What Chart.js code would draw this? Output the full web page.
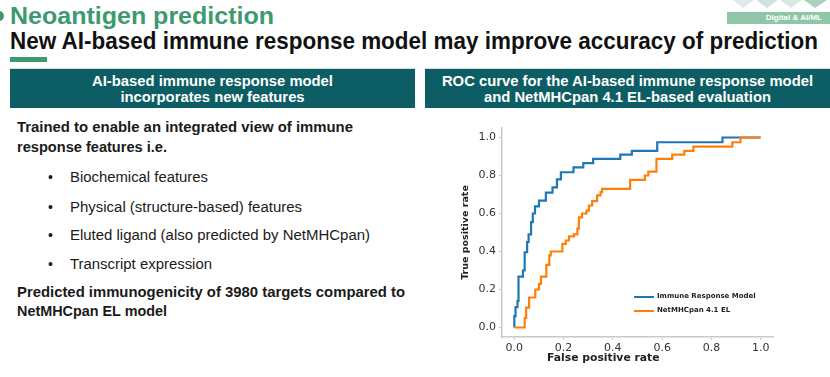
<!DOCTYPE html>
<html>
<head>
<meta charset="utf-8">
<script src="https://cdn.jsdelivr.net/npm/chart.js@4.4.1/dist/chart.umd.min.js"></script>
<style>
  body { margin: 0; width: 830px; height: 377px; background: #fff; position: relative; overflow: hidden; font-family: "Liberation Sans", Arial, sans-serif; }
  .abs { position: absolute; white-space: nowrap; }
  .fit { transform-origin: left top; }
  .h1 { left: 10px; top: 3px; font-size: 23px; font-weight: bold; color: #3d9a70; }
  .h2 { left: 10px; top: 27px; font-size: 24px; font-weight: bold; color: #111; }
  .bar { left: 10px; top: 57px; width: 37px; height: 5px; background: #3d9a70; }
  .hdr { top: 68px; height: 40px; background: #0d5e64; color: #fff; font-weight: bold; font-size: 14.8px; line-height: 16px; text-align: center; padding-top: 4px; box-sizing: border-box; border-top: 1px solid #cfdfe0; }
  .body { color: #1a1a1a; font-size: 14px; }
  .b { font-weight: bold; font-size: 13.8px; }
  .bullet { left: 48px; }
  .item { left: 70px; }
  .badge { left: 727px; top: 12px; width: 103px; height: 12px; background: #8ec6a7; color: #fff; font-size: 8px; font-weight: bold; text-align: right; line-height: 12px; padding-right: 8px; box-sizing: border-box; }
  #wrap { position: absolute; left: 455px; top: 115px; width: 375px; height: 255px; }
  .xt { left: 547px; top: 351px; font-family: "DejaVu Sans", sans-serif; font-weight: bold; font-size: 10.8px; color: #222; }
  .leg { font-family: "DejaVu Sans", sans-serif; font-weight: bold; font-size: 7px; color: #222; }
  .sw { position: absolute; width: 20px; height: 2.4px; }
</style>
</head>
<body>
<svg class="abs" style="left:0;top:0" width="830" height="30">
  <circle cx="-1" cy="16" r="5" fill="#3d9a70"/>
  <polygon points="733,0 754,0 743,8" fill="#dfe9ec"/>
  <polygon points="756,0 778,0 767,8" fill="#cfe2df"/>
  <polygon points="780,0 802,0 791,8" fill="#d6eadf"/>
  <polygon points="804,0 827,0 815,8" fill="#a9d2bd"/>
</svg>
<div class="abs badge">Digital &amp; AI/ML</div>

<div class="abs h1 fit" data-w="264">Neoantigen prediction</div>
<div class="abs h2 fit" data-w="808">New AI-based immune response model may improve accuracy of prediction</div>
<div class="abs bar"></div>

<div class="abs hdr" style="left:10px;width:405px;">AI-based immune response model<br>incorporates new features</div>
<div class="abs hdr" style="left:425px;width:405px;">ROC curve for the AI-based immune response model<br>and NetMHCpan 4.1 EL-based evaluation</div>

<div class="abs body b fit" data-w="336" style="left:17px;top:120px;">Trained to enable an integrated view of immune</div>
<div class="abs body b fit" data-w="150" style="left:17px;top:140px;">response features i.e.</div>
<div class="abs body bullet" style="top:169px;">•</div><div class="abs body item fit" data-w="138" style="top:169px;">Biochemical features</div>
<div class="abs body bullet" style="top:199px;">•</div><div class="abs body item fit" data-w="232" style="top:199px;">Physical (structure-based) features</div>
<div class="abs body bullet" style="top:227px;">•</div><div class="abs body item fit" data-w="300" style="top:227px;">Eluted ligand (also predicted by NetMHCpan)</div>
<div class="abs body bullet" style="top:256px;">•</div><div class="abs body item fit" data-w="142" style="top:256px;">Transcript expression</div>
<div class="abs body b fit" data-w="388" style="left:17px;top:285px;">Predicted immunogenicity of 3980 targets compared to</div>
<div class="abs body b fit" data-w="150" style="left:17px;top:304px;">NetMHCpan EL model</div>

<div id="wrap"><canvas id="roc" width="375" height="255"></canvas></div>
<div class="abs xt">False positive rate</div>
<div id="legend"></div>

<script>
const seriesNames = ['Immune Response Model', 'NetMHCpan 4.1 EL'];
const seriesColors = ['#1f77b4', '#ff7f0e'];

// ROC points (false positive rate, true positive rate)
const irmFpr = [0, 0, 0.005, 0.013, 0.017, 0.035, 0.042, 0.052, 0.058, 0.068, 0.075, 0.084, 0.10, 0.128, 0.155, 0.173, 0.189, 0.24, 0.28, 0.32, 0.43, 0.477, 0.58, 0.845, 1.0];
const irmTpr = [0, 0.06, 0.107, 0.14, 0.268, 0.30, 0.396, 0.45, 0.49, 0.555, 0.60, 0.637, 0.668, 0.71, 0.738, 0.78, 0.817, 0.843, 0.865, 0.888, 0.91, 0.93, 0.975, 1.0, 1.0];

const netFpr = [0, 0.042, 0.048, 0.06, 0.085, 0.10, 0.108, 0.13, 0.142, 0.148, 0.195, 0.209, 0.222, 0.242, 0.256, 0.262, 0.275, 0.293, 0.303, 0.316, 0.336, 0.35, 0.356, 0.47, 0.53, 0.544, 0.577, 0.641, 0.69, 0.727, 0.885, 0.918, 1.0];
const netTpr = [0, 0.05, 0.105, 0.158, 0.20, 0.23, 0.268, 0.33, 0.38, 0.40, 0.44, 0.458, 0.48, 0.49, 0.52, 0.58, 0.60, 0.615, 0.642, 0.665, 0.695, 0.712, 0.73, 0.777, 0.80, 0.82, 0.888, 0.91, 0.93, 0.952, 0.975, 1.0, 1.0];

const xTicks = [0.0, 0.2, 0.4, 0.6, 0.8, 1.0];
const yTicks = [0.0, 0.2, 0.4, 0.6, 0.8, 1.0];

// squeeze text lines to the widths they have on the original slide
document.querySelectorAll('.fit').forEach(function (el) {
    const w = el.getBoundingClientRect().width;
    el.style.transform = 'scaleX(' + (parseFloat(el.dataset.w) / w) + ')';
});

function points(xs, ys) {
    return xs.map(function (x, i) { return { x: x, y: ys[i] }; });
}

const tickFont = { family: 'DejaVu Sans', size: 11 };
const spine = '#c9c9c9';

new Chart(document.getElementById('roc').getContext('2d'), {
    type: 'scatter',
    data: {
        datasets: [
            {
                label: seriesNames[0],
                data: points(irmFpr, irmTpr),
                borderColor: seriesColors[0],
                backgroundColor: seriesColors[0],
                showLine: true,
                stepped: 'before',
                borderWidth: 2.2,
                pointRadius: 0,
                order: 1
            },
            {
                label: seriesNames[1],
                data: points(netFpr, netTpr),
                borderColor: seriesColors[1],
                backgroundColor: seriesColors[1],
                showLine: true,
                stepped: 'before',
                borderWidth: 2.2,
                pointRadius: 0,
                order: 0
            }
        ]
    },
    options: {
        responsive: false,
        animation: false,
        devicePixelRatio: 1,
        layout: { padding: { left: 0, top: 13, right: 57, bottom: 0 } },
        plugins: {
            legend: { display: false },
            tooltip: { enabled: false }
        },
        scales: {
            x: {
                type: 'linear',
                min: -0.05, max: 1.05,
                afterBuildTicks: function (s) { s.ticks = xTicks.map(function (v) { return { value: v }; }); },
                afterFit: function (s) { s.height = 33; },
                grid: { drawOnChartArea: false, color: spine, tickLength: 3, tickWidth: 1 },
                border: { color: spine, width: 1.5 },
                ticks: {
                    font: tickFont, color: '#333', padding: 2, maxRotation: 0,
                    callback: function (v) { return v.toFixed(1); }
                }
            },
            y: {
                type: 'linear',
                min: -0.05, max: 1.05,
                afterBuildTicks: function (s) { s.ticks = yTicks.map(function (v) { return { value: v }; }); },
                afterFit: function (s) { s.width = 47; },
                grid: { drawOnChartArea: false, color: spine, tickLength: 3, tickWidth: 1 },
                border: { color: spine, width: 1.5 },
                title: {
                    display: true, text: 'True positive rate', color: '#222',
                    font: { family: 'DejaVu Sans', size: 9.5, weight: 'bold' },
                    padding: { top: 5, bottom: 0 }
                },
                ticks: {
                    font: tickFont, color: '#333', padding: 3,
                    callback: function (v) { return v.toFixed(1); }
                }
            }
        }
    }
});

// legend in the lower right of the plot
const leg = document.getElementById('legend');
seriesNames.forEach(function (name, i) {
    const top = 297 + i * 14;
    const sw = document.createElement('div');
    sw.className = 'sw';
    sw.style.left = '634px';
    sw.style.top = (top - 1) + 'px';
    sw.style.background = seriesColors[i];
    leg.appendChild(sw);
    const t = document.createElement('div');
    t.className = 'abs leg';
    t.style.left = '657px';
    t.style.top = (top - 5) + 'px';
    t.textContent = name;
    leg.appendChild(t);
});
</script>
</body>
</html>
